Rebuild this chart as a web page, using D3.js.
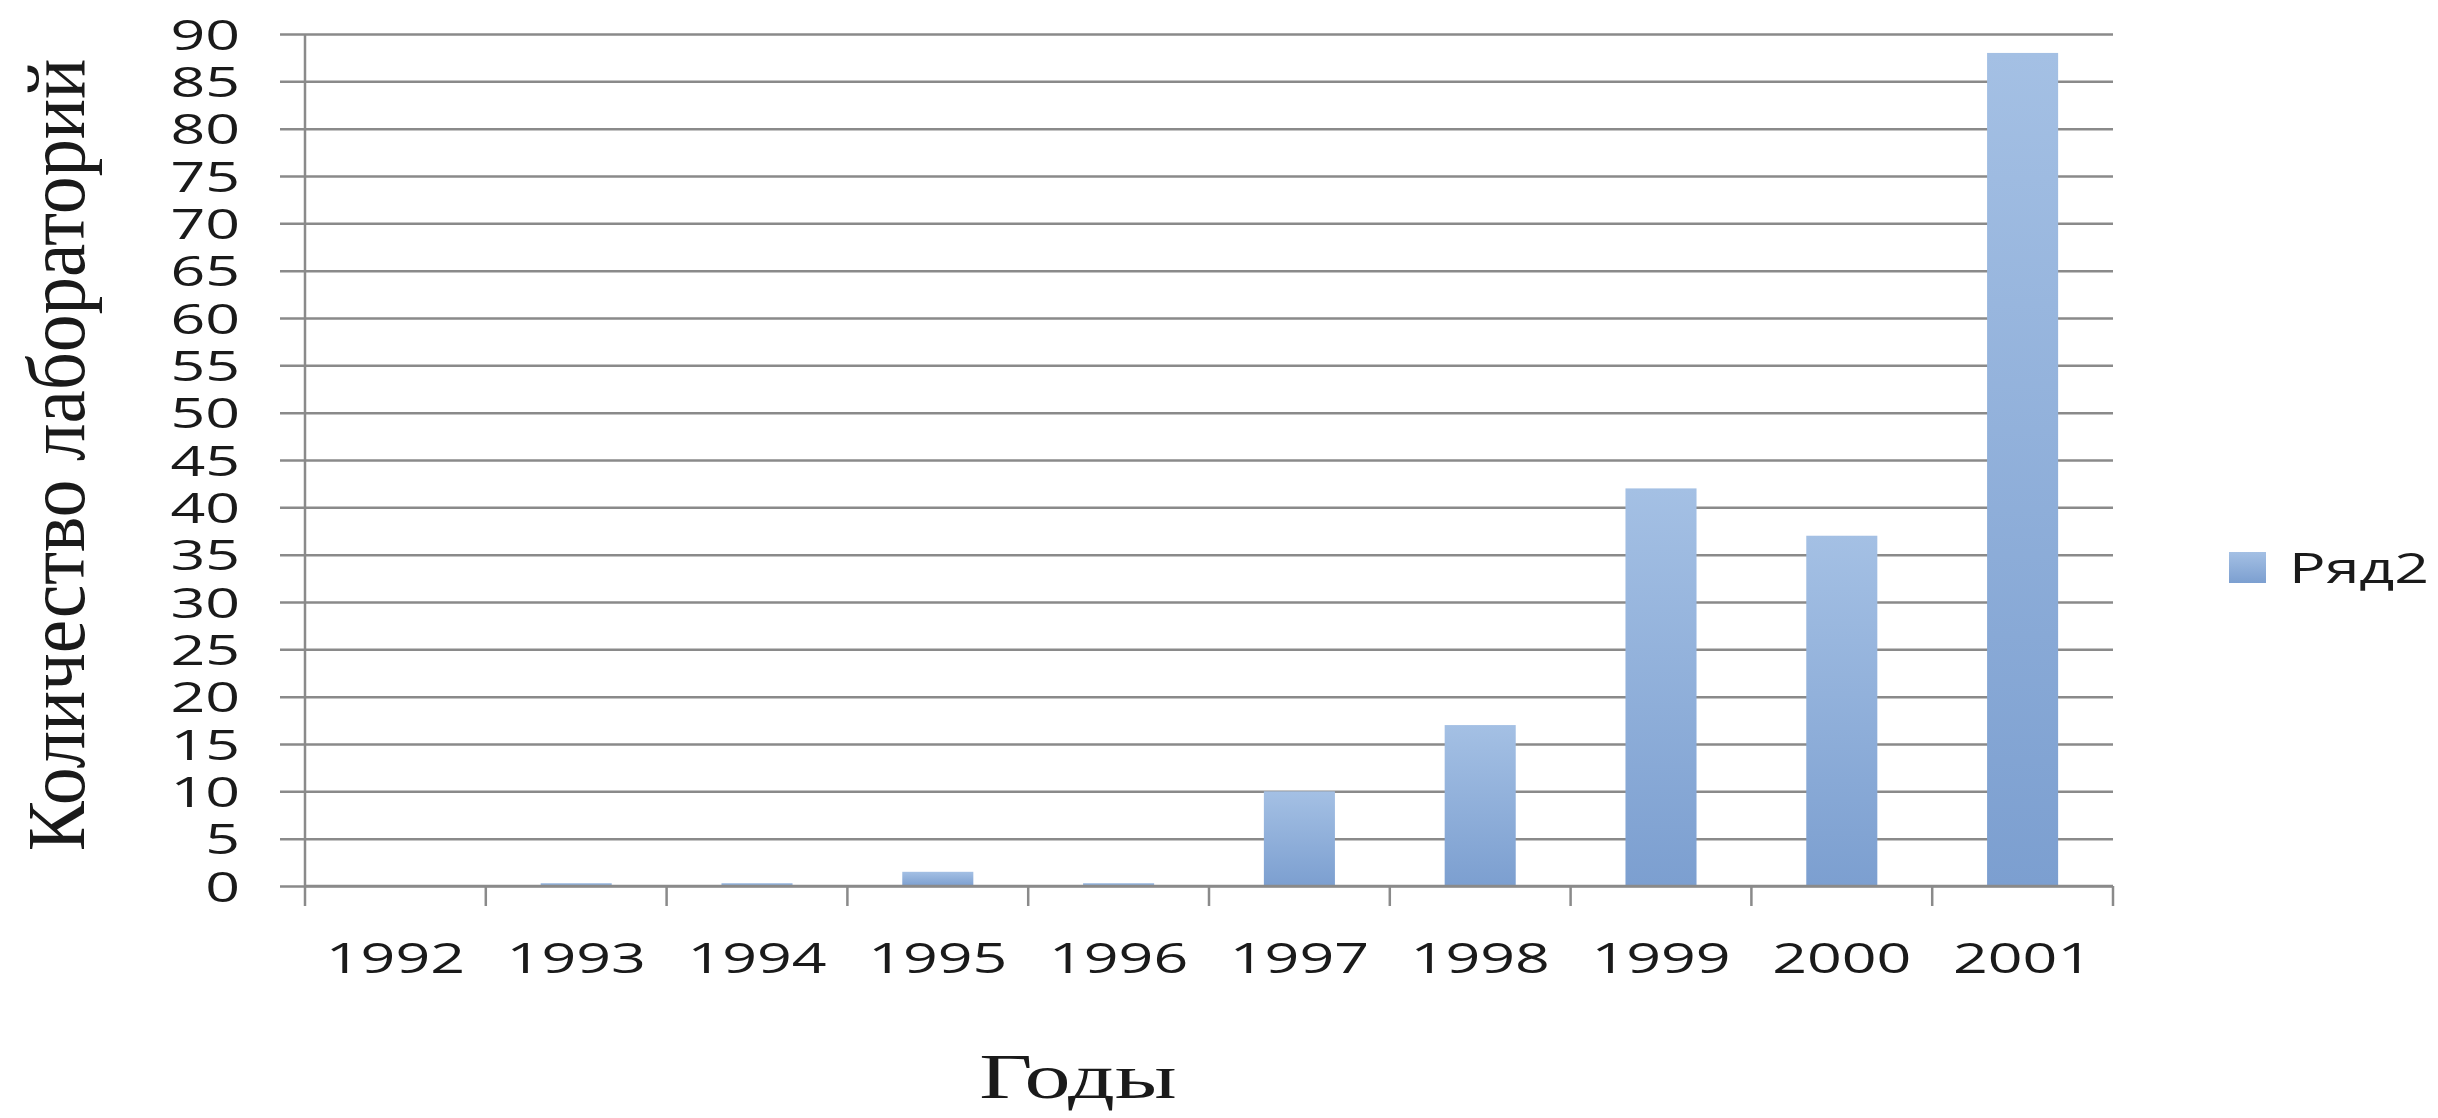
<!DOCTYPE html>
<html>
<head>
<meta charset="utf-8">
<script src="https://cdn.jsdelivr.net/npm/d3@7"></script>
<style>
    body { margin: 0; background: #fff; }
    svg { display: block; }
</style>
</head>
<body>
<svg id="chart"></svg>
<script>
const years = ['1992', '1993', '1994', '1995', '1996', '1997', '1998', '1999', '2000', '2001'];
const labs = [0, 0.3, 0.3, 1.5, 0.3, 10, 17, 42, 37, 88];
const yTicks = d3.range(0, 95, 5);
const seriesName = 'Ряд2';
const yTitle = 'Количество лабораторий';
const xTitle = 'Годы';

const svgWidth = 2438,
    svgHeight = 1118,
    stretch = 1.45,
    lineColor = '#8a8a8a',
    margin = { top: 34, right: 325, bottom: 232, left: 305 },
    svg = d3.select('#chart').attr('width', svgWidth).attr('height', svgHeight);
const width = svgWidth - margin.left - margin.right;
const height = svgHeight - margin.top - margin.bottom;

const defs = svg.append('defs');
const grad = defs.append('linearGradient').attr('id', 'barFill')
    .attr('x1', 0).attr('y1', 0).attr('x2', 0).attr('y2', 1);
grad.append('stop').attr('offset', '0%').attr('stop-color', '#a4c0e4');
grad.append('stop').attr('offset', '100%').attr('stop-color', '#7c9fd0');

const g = svg.append('g').attr('transform', 'translate(' + margin.left + ',' + margin.top + ')');

const xScale = d3.scaleBand().domain(years).range([0, width]).paddingInner(0.607).paddingOuter(0.3035);
const yScale = d3.scaleLinear().domain([0, 90]).range([height, 0]);

// grid + y labels
const yAxis = d3.axisRight(yScale).tickValues(yTicks).tickSize(width + 25).tickSizeOuter(0);
g.append('g').attr('id', 'yAxisG')
    .attr('transform', 'translate(-25,0)')
    .call(function (g) {
        g.call(yAxis)
        g.select('.domain').remove()
        g.selectAll('.tick line').attr('stroke', lineColor).attr('stroke-width', 2.5)
        g.selectAll('.tick text')
            .attr('x', -40 / stretch).attr('dy', '0.36em')
            .attr('text-anchor', 'end')
            .attr('transform', 'scale(' + stretch + ',1)')
            .style('font-family', '"Open Sans", sans-serif')
            .style('font-size', '42px')
            .attr('fill', '#1a1a1a')
    });

g.append('line')
    .attr('x1', 0).attr('y1', 0).attr('x2', 0).attr('y2', height)
    .attr('stroke', lineColor).attr('stroke-width', 2.5);

// bars
g.selectAll('.bar').data(years).enter().append('rect')
    .attr('class', 'bar')
    .attr('x', function (d) { return xScale(d); })
    .attr('y', function (d, i) { return yScale(labs[i]); })
    .attr('width', xScale.bandwidth())
    .attr('height', function (d, i) { return height - yScale(labs[i]); })
    .attr('fill', 'url(#barFill)');

// x axis line, boundary ticks, labels
const xAxisG = g.append('g').attr('id', 'xAxisG').attr('transform', 'translate(0,' + height + ')');
xAxisG.append('line')
    .attr('x1', 0).attr('y1', 0).attr('x2', width).attr('y2', 0)
    .attr('stroke', lineColor).attr('stroke-width', 2.5);
xAxisG.selectAll('.bound').data(d3.range(years.length + 1)).enter().append('line')
    .attr('class', 'bound')
    .attr('x1', function (d) { return d * xScale.step(); })
    .attr('x2', function (d) { return d * xScale.step(); })
    .attr('y1', 0).attr('y2', 20)
    .attr('stroke', lineColor).attr('stroke-width', 2.5);
xAxisG.selectAll('.xlab').data(years).enter().append('text')
    .attr('class', 'xlab')
    .attr('transform', function (d) {
        return 'translate(' + (xScale(d) + xScale.bandwidth() / 2) + ',87) scale(' + stretch + ',1)';
    })
    .attr('text-anchor', 'middle')
    .style('font-family', '"Open Sans", sans-serif')
    .style('font-size', '42px')
    .attr('fill', '#1a1a1a')
    .text(function (d) { return d; });

// axis titles
svg.append('text')
    .attr('transform', 'translate(84,455) rotate(-90) scale(1,1.1)')
    .attr('text-anchor', 'middle')
    .style('font-family', '"Liberation Serif", "Times New Roman", serif')
    .style('font-size', '75px')
    .attr('fill', '#1a1a1a')
    .text(yTitle);

svg.append('text')
    .attr('transform', 'translate(1078,1098) scale(1.44,1)')
    .attr('text-anchor', 'middle')
    .style('font-family', '"Liberation Serif", "Times New Roman", serif')
    .style('font-size', '64px')
    .attr('fill', '#1a1a1a')
    .text(xTitle);

// legend
const legend = svg.append('g').attr('transform', 'translate(2229,552)');
legend.append('rect').attr('width', 37).attr('height', 31).attr('fill', 'url(#barFill)');
legend.append('text')
    .attr('transform', 'translate(60,31) scale(' + stretch + ',1)')
    .style('font-family', '"Open Sans", sans-serif')
    .style('font-size', '42px')
    .attr('fill', '#1a1a1a')
    .text(seriesName);
</script>
</body>
</html>
